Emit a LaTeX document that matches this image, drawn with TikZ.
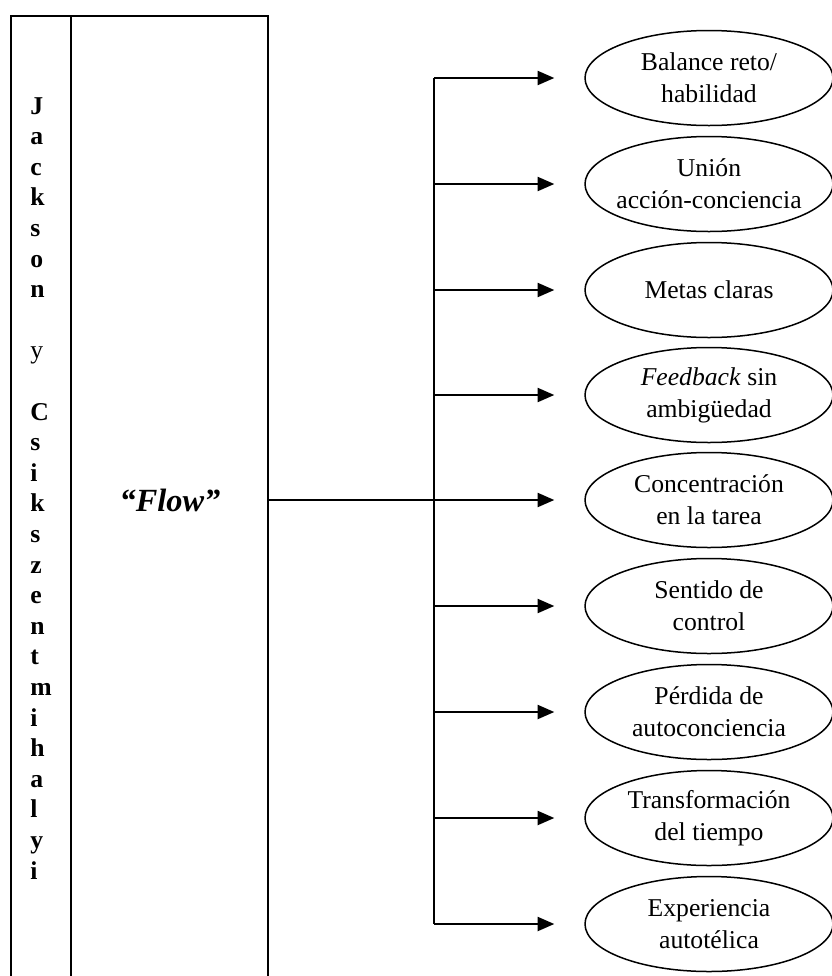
\documentclass[tikz,border=0pt]{standalone}
\usepackage{fontspec}
\setmainfont{Liberation Serif}
\usepackage{tikz}
\usetikzlibrary{arrows.meta,positioning,shapes.geometric,calc}
\tikzset{
  framebox/.style={line width=1.2pt, line cap=rect},
  namecol/.style={
    inner sep=0pt, align=left, anchor=north west,
    font=\fontsize{15.4}{18.36}\selectfont\bfseries
  },
  flowlabel/.style={
    inner sep=0pt, font=\fontsize{19.4}{23}\selectfont\bfseries\itshape
  },
  trunkline/.style={line width=1pt},
  branch/.style={
    -{Triangle[length=10pt, width=8.5pt]}, line width=1pt,
    shorten >=18pt
  },
  stageoval/.style={
    ellipse, draw, line width=0.9pt,
    minimum width=148.8pt, minimum height=57pt,
    inner xsep=-15pt, inner ysep=0pt,
    font=\fontsize{15.4}{19.2}\selectfont, align=center
  },
}

\begin{document}
\begin{tikzpicture}[x=0.6pt, y=-0.6pt]

\useasboundingbox (0,0) rectangle (832,976);

% Frame with the two columns (open at the bottom)
\draw[framebox] (11,990) -- (11,16) -- (268,16) -- (268,990);
\draw[framebox] (71,16) -- (71,990);

% Authors, one letter per line
\node[namecol] (authors) at (30,97) {J\\a\\c\\k\\s\\o\\n\\\mbox{}\\\mdseries y\\\mbox{}\\C\\s\\i\\k\\s\\z\\e\\n\\t\\m\\i\\h\\a\\l\\y\\i};

% Main concept
\node[flowlabel] (flow) at (170,500) {``Flow''};
\coordinate (flow-out) at (268,500);

% Dimensions of flow
\node[stageoval] (bal) at (709,78) {Balance reto/\\habilidad};
\node[stageoval] (union) at (709,184) {Unión\\acción-conciencia};
\node[stageoval] (metas) at (709,290) {Metas claras};
\node[stageoval] (feed) at (709,395) {\textit{Feedback} sin\\ambigüedad};
\node[stageoval] (conc) at (709,500) {Concentración\\en la tarea};
\node[stageoval] (control) at (709,606) {Sentido de\\control};
\node[stageoval] (perd) at (709,712) {Pérdida de\\autoconciencia};
\node[stageoval] (trans) at (709,818) {Transformación\\del tiempo};
\node[stageoval] (exper) at (709,924) {Experiencia\\autotélica};

% Trunk
\coordinate (trunk-top) at (434,78);
\coordinate (trunk-mid) at (434,500);
\coordinate (trunk-bot) at (434,924);
\draw[trunkline] (flow-out) -- (trunk-mid);
\draw[trunkline] (trunk-top) -- (trunk-bot);

% Branches
\foreach \n in {bal,union,metas,feed,conc,control,perd,trans,exper}
  \draw[branch] (trunk-top |- \n.west) -- (\n.west);

\end{tikzpicture}
\end{document}
